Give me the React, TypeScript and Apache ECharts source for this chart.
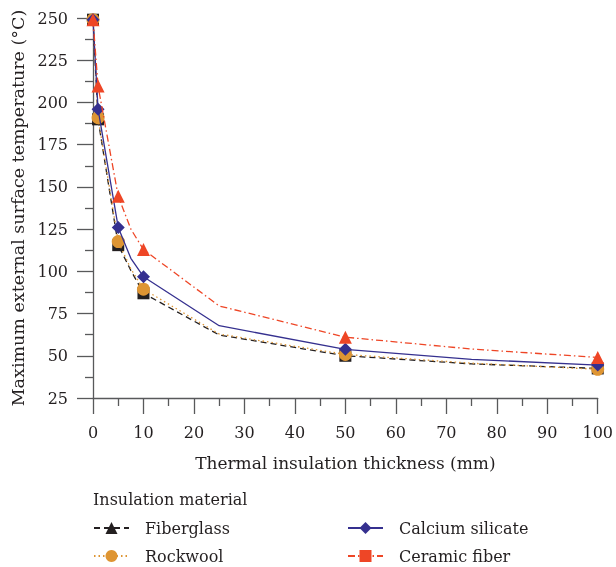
import React, { useEffect, useRef } from "react";
import * as echarts from "echarts";

const thickness = [0, 1, 5, 7.5, 10, 25, 50, 75, 100];
const markedAt = [0, 1, 5, 10, 50, 100];
const fiberglass = [249, 190, 115.5, 100.5, 87, 62.3, 50, 45.2, 42.5];
const rockwool = [249, 191, 117.6, 101.5, 89.4, 62.9, 50.8, 45.6, 42];
const calciumSilicate = [249, 196, 126, 107.7, 96.8, 67.8, 53.8, 47.9, 44.5];
const ceramicFiber = [249, 209.7, 144.4, 125, 112.9, 79.5, 61, 54, 49];
const seriesNames = ["Fiberglass", "Rockwool", "Calcium silicate", "Ceramic fiber"];
const legendTitle = "Insulation material";
const xTitle = "Thermal insulation thickness (mm)";
const yTitle = "Maximum external surface temperature (°C)";

const FONT = "DejaVu Serif";
const TXT = "#231f20";
const AXIS = "#58595b";

const styles = [
  { color: "#231f20", type: [6, 4], plotSymbol: "rect", legendSymbol: "triangle", size: 12 },
  { color: "#de9533", type: [1.5, 3], plotSymbol: "circle", legendSymbol: "circle", size: 13 },
  { color: "#35308f", type: "solid", plotSymbol: "diamond", legendSymbol: "diamond", size: 13 },
  { color: "#ee4626", type: [7, 3, 1.5, 3], plotSymbol: "triangle", legendSymbol: "rect", size: 13 },
];

const values = [fiberglass, rockwool, calciumSilicate, ceramicFiber];

export default function App() {
  const ref = useRef<HTMLDivElement>(null);
  useEffect(() => {
    if (!ref.current) return;
    const chart = echarts.init(ref.current, null, { renderer: "svg" });
    const dummy = seriesNames.map((name, i) => ({
      name,
      type: "line",
      data: [],
      symbol: styles[i].legendSymbol,
      symbolSize: 12,
      itemStyle: { color: styles[i].color },
      lineStyle: { color: styles[i].color, width: 1.3, type: styles[i].type as any },
    }));
    const real = seriesNames.map((name, i) => ({
      name,
      type: "line",
      clip: false,
      data: thickness.map((x, j) =>
        markedAt.includes(x)
          ? { value: [x, values[i][j]] }
          : { value: [x, values[i][j]], symbol: "none" }
      ),
      symbol: styles[i].plotSymbol,
      symbolSize: styles[i].size,
      itemStyle: { color: styles[i].color },
      lineStyle: { color: styles[i].color, width: 1.3, type: styles[i].type as any },
      z: 2 + i,
    }));
    const legendBase = {
      orient: "vertical",
      top: 520,
      itemWidth: 35,
      itemHeight: 15,
      itemGap: 12,
      padding: 0,
      selectedMode: false,
      textStyle: { fontFamily: FONT, fontSize: 16, color: TXT, padding: [0, 0, 0, 11] },
    };
    chart.setOption({
      animation: false,
      grid: { left: 93, right: 16, top: 18, bottom: 169 },
      xAxis: {
        type: "value",
        min: 0,
        max: 100,
        interval: 10,
        name: xTitle,
        nameLocation: "middle",
        nameGap: 56,
        nameTextStyle: { fontFamily: FONT, fontSize: 17, color: TXT },
        axisLine: { lineStyle: { color: AXIS, width: 1.3 } },
        axisTick: { length: 16, lineStyle: { color: AXIS, width: 1.3 } },
        minorTick: { show: true, splitNumber: 2, length: 8, lineStyle: { color: AXIS, width: 1.3 } },
        axisLabel: { fontFamily: FONT, fontSize: 16, color: TXT, margin: 26 },
        splitLine: { show: false },
      },
      yAxis: {
        type: "value",
        min: 25,
        max: 250,
        interval: 25,
        name: yTitle,
        nameLocation: "middle",
        nameGap: 66,
        nameTextStyle: { fontFamily: FONT, fontSize: 17.5, color: TXT },
        axisLine: { show: true, lineStyle: { color: AXIS, width: 1.3 } },
        axisTick: { show: true, length: 16, lineStyle: { color: AXIS, width: 1.3 } },
        minorTick: { show: true, splitNumber: 2, length: 8, lineStyle: { color: AXIS, width: 1.3 } },
        axisLabel: { fontFamily: FONT, fontSize: 16, color: TXT, margin: 25 },
        splitLine: { show: false },
      },
      legend: [
        { ...legendBase, left: 93, data: [seriesNames[0], seriesNames[1]] },
        { ...legendBase, left: 347, data: [seriesNames[2], seriesNames[3]] },
      ],
      graphic: [
        {
          type: "text",
          left: 93,
          top: 491,
          style: { text: legendTitle, fontFamily: FONT, fontSize: 16, fill: TXT },
        },
      ],
      series: [...dummy, ...real],
    });
    return () => chart.dispose();
  }, []);
  return (
    <div
      ref={ref}
      style={{ position: "fixed", left: 0, top: 0, width: 616, height: 567 }}
    />
  );
}
